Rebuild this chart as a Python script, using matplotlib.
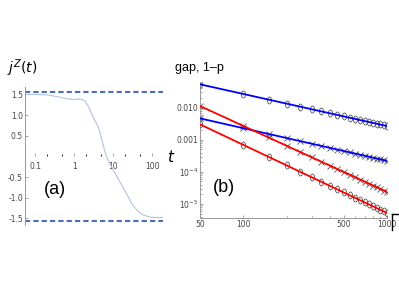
import matplotlib
matplotlib.use('Agg')
import matplotlib.pyplot as plt
from matplotlib.lines import Line2D
from matplotlib.markers import MarkerStyle
from matplotlib.transforms import Affine2D
from matplotlib.ticker import FixedLocator, NullFormatter

# panel (a): j^Z(t)
t_vals = [0.055, 0.1, 0.2, 0.35, 0.5, 0.7, 1.0, 1.3, 1.6, 1.9, 2.3, 2.6, 3.2, 4.2, 5.0, 6.2, 7.5, 10, 13, 18, 25, 33, 45, 60, 90, 130, 190]
jz_vals = [1.50, 1.50, 1.49, 1.45, 1.42, 1.39, 1.38, 1.39, 1.38, 1.34, 1.22, 1.10, 0.92, 0.70, 0.45, 0.10, -0.10, -0.33, -0.52, -0.75, -1.0, -1.20, -1.34, -1.42, -1.47, -1.48, -1.48]
jz_limits = [1.5708, -1.5708]

# panel (b): gap and 1-p versus N
n_vals = [50, 100, 150, 200, 250, 300, 350, 400, 450, 500, 550, 600, 650, 700, 750, 800, 850, 900, 950, 1000]
blue_circ = [0.0536, 0.0268, 0.0179, 0.0134, 0.0107, 0.0089, 0.0077, 0.0067, 0.0060, 0.0054,
             0.0049, 0.0045, 0.0041, 0.0038, 0.0036, 0.0034, 0.0032, 0.0030, 0.0028, 0.0027]
red_x = [0.0113, 0.00271, 0.00118, 0.00065, 4.1e-4, 2.8e-4, 2.05e-4, 1.56e-4, 1.22e-4, 9.8e-5,
         8.1e-5, 6.8e-5, 5.7e-5, 4.9e-5, 4.3e-5, 3.7e-5, 3.3e-5, 2.9e-5, 2.6e-5, 2.37e-5]
blue_x = [0.00466, 0.00230, 0.00152, 0.00113, 9.0e-4, 7.5e-4, 6.4e-4, 5.6e-4, 4.95e-4, 4.45e-4,
          4.05e-4, 3.7e-4, 3.4e-4, 3.17e-4, 2.95e-4, 2.76e-4, 2.6e-4, 2.45e-4, 2.32e-4, 2.2e-4]
red_circ = [0.00303, 6.9e-4, 2.94e-4, 1.59e-4, 9.9e-5, 6.7e-5, 4.8e-5, 3.6e-5, 2.84e-5, 2.27e-5,
            1.86e-5, 1.55e-5, 1.3e-5, 1.11e-5, 9.6e-6, 8.3e-6, 7.3e-6, 6.5e-6, 5.8e-6, 5.2e-6]
fit_n = [50, 1000]
fit_blue_circ = [0.0539, 0.00268]
fit_red_x = [0.0113, 2.37e-5]
fit_blue_x = [0.00466, 2.2e-4]
fit_red_circ = [0.00303, 5.2e-6]

W, H = 399, 299
fig = plt.figure(figsize=(W / 100, H / 100), dpi=100)
lab_col = '#444444'
spine_col = '#999999'

def box(x0, y0, x1, y1):
    return [x0 / W, 1 - y1 / H, (x1 - x0) / W, (y1 - y0) / H]

# ---- (a)
ax1 = fig.add_axes(box(25, 87, 163, 225))
ax1.plot(t_vals, jz_vals, color='#b4c0e0', lw=0.8)
for v in jz_limits:
    ax1.axhline(v, color='#4a6eb5', lw=1.5, ls=(0, (2.5, 1.5)))
ax1.set_xscale('log')
ax1.set_xlim(0.055, 190)
ax1.set_ylim(-1.66, 1.68)
for s in ['top', 'right']:
    ax1.spines[s].set_visible(False)
ax1.spines['bottom'].set_position(('data', 0))
ax1.spines['bottom'].set_visible(False)
ax1.spines['left'].set_color(spine_col)
ax1.spines['left'].set_linewidth(0.7)
ax1.set_yticks([1.5, 1.0, 0.5, -0.5, -1.0, -1.5])
ax1.set_yticklabels(['1.5', '1.0', '0.5', '-0.5', '-1.0', '-1.5'])
ax1.set_xticks([0.1, 1, 10, 100])
ax1.set_xticklabels(['0.1', '1', '10', '100'])
ax1.xaxis.set_minor_locator(FixedLocator([0.2, 0.5, 2, 5, 20, 50]))
ax1.xaxis.set_minor_formatter(NullFormatter())
ax1.tick_params(axis='both', labelsize=5.5, labelcolor=lab_col, color=spine_col,
                direction='in', length=2.5, width=0.6, pad=1.5)
ax1.tick_params(axis='x', which='both', direction='in', pad=4)
ax1.tick_params(axis='x', which='minor', length=1.5)
ax1.text(0.22, 0.26, '(a)', transform=ax1.transAxes, fontsize=13, ha='center', va='center',
         family='Liberation Sans')
fig.text(22 / W, 1 - 68 / H, r'$j^Z(t)$', fontsize=10, ha='center', va='center')

# ---- (b)
ax2 = fig.add_axes(box(200, 82, 387, 217.7))
ax2.set_xscale('log')
ax2.set_yscale('log')
oval = MarkerStyle('o', fillstyle='none', transform=Affine2D().scale(0.6, 1.0))
mk = dict(color='#555555', ls='none', mew=0.6, zorder=3)
ax2.plot(n_vals, blue_circ, marker=oval, ms=5, **mk)
ax2.plot(n_vals, red_x, marker='x', ms=3.8, **mk)
ax2.plot(n_vals, blue_x, marker='x', ms=3.8, **mk)
ax2.plot(n_vals, red_circ, marker=oval, ms=5, **mk)
ax2.plot(fit_n, fit_blue_circ, color='#0000ff', lw=1.3, zorder=4)
ax2.plot(fit_n, fit_blue_x, color='#0000ff', lw=1.3, zorder=4)
ax2.plot(fit_n, fit_red_x, color='#ff0000', lw=1.3, zorder=4)
ax2.plot(fit_n, fit_red_circ, color='#ff0000', lw=1.3, zorder=4)
ax2.set_xlim(50, 1000)
ax2.set_ylim(3.7e-6, 0.0636)
for s in ['top', 'right']:
    ax2.spines[s].set_visible(False)
for s in ['left', 'bottom']:
    ax2.spines[s].set_color(spine_col)
    ax2.spines[s].set_linewidth(0.7)
ax2.set_xticks([50, 100, 500, 1000])
ax2.set_xticklabels(['50', '100', '500', '1000'])
ax2.xaxis.set_minor_locator(FixedLocator([200, 300, 400, 600, 700, 800, 900]))
ax2.xaxis.set_minor_formatter(NullFormatter())
ax2.set_yticks([0.01, 0.001, 1e-4, 1e-5])
ax2.set_yticklabels(['0.010', '0.001', r'$10^{-4}$', r'$10^{-5}$'])
ax2.tick_params(axis='both', labelsize=5.5, labelcolor=lab_col, color=spine_col,
                direction='in', length=2.5, width=0.6, pad=1.5)
ax2.tick_params(which='minor', length=1.5, direction='in', color=spine_col)
ax2.text(0.13, 0.22, '(b)', transform=ax2.transAxes, fontsize=13, ha='center', va='center',
         family='Liberation Sans')
fig.text(199 / W, 1 - 68 / H, 'gap, 1\u2013p', fontsize=9, ha='center', va='center',
         family='Liberation Sans')
fig.text(171 / W, 1 - 157 / H, r'$t$', fontsize=11, ha='center', va='center')

# stray frame corner at right edge
fig.add_artist(Line2D([392 / W, 399 / W], [1 - 214 / H, 1 - 214 / H], color='black', lw=1))
fig.add_artist(Line2D([392 / W, 392 / W], [1 - 214 / H, 1 - 230 / H], color='black', lw=1))

fig.savefig('out.png', dpi=100)
